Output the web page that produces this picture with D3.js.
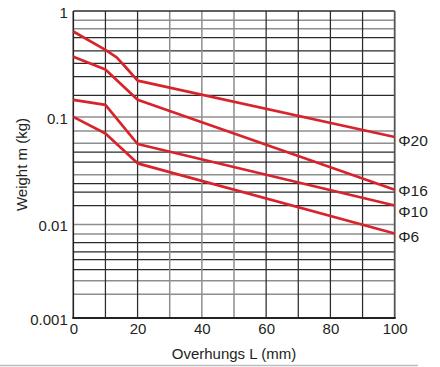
<!DOCTYPE html>
<html>
<head>
<meta charset="utf-8">
<script src="https://cdn.jsdelivr.net/npm/d3@7/dist/d3.min.js"></script>
<style>
  html, body { margin: 0; padding: 0; background: #fff; }
  svg { display: block; font-family: "Liberation Sans", Arial, sans-serif; }
</style>
</head>
<body>
<svg id="chart" width="440" height="367"></svg>
<script>
// Overhang L (mm) sample points for each bore size
const seriesNames = ["Φ20", "Φ16", "Φ10", "Φ6"];
const phi20X = [0, 10, 13.5, 16.6, 20, 100];
const phi20Y = [0.64, 0.43, 0.365, 0.288, 0.22, 0.065];
const phi16X = [0, 10, 20, 100];
const phi16Y = [0.37, 0.28, 0.145, 0.021];
const phi10X = [0, 10, 20, 100];
const phi10Y = [0.145, 0.13, 0.056, 0.015];
const phi6X = [0, 10, 20, 100];
const phi6Y = [0.1, 0.07, 0.037, 0.008];

// Axis ticks
const xTicks = [0, 20, 40, 60, 80, 100];
const yTicks = [1, 0.1, 0.01, 0.001];
const yTickLabels = ["1", "0.1", "0.01", "0.001"];

// Grid lines
const xGridDark = [10, 20, 60, 70, 80, 90];
const xGridLight = [30, 40, 50];
const yGridDark = [0.56, 0.42, 0.32, 0.24, 0.16, 0.047, 0.038, 0.024, 0.02, 0.015,
                   0.0064, 0.0051, 0.0042, 0.0033];
const yGridLight = [0.82, 0.68, 0.1, 0.074, 0.057, 0.029, 0.01, 0.0079, 0.0025, 0.0018];

const svg = d3.select("#chart");
const plotLeft = 73.3, plotRight = 394.7, plotTop = 11, plotBottom = 318;
const textColor = "#231f20";

const x = d3.scaleLinear().domain([0, 100]).range([plotLeft, plotRight]);
// log scale with a separate span per decade
const y = d3.scaleLog()
  .domain([1, 0.1, 0.01, 0.001])
  .range([plotTop, 116.9, 224.5, plotBottom]);

const darkGrid = "#2b2b2b", lightGrid = "#8e8e8e";

const grid = svg.append("g");
grid.selectAll(".hl").data(yGridLight).join("line")
  .attr("x1", plotLeft).attr("x2", plotRight)
  .attr("y1", d => y(d)).attr("y2", d => y(d))
  .attr("stroke", lightGrid).attr("stroke-width", 1.5);
grid.selectAll(".hd").data(yGridDark).join("line")
  .attr("x1", plotLeft).attr("x2", plotRight)
  .attr("y1", d => y(d)).attr("y2", d => y(d))
  .attr("stroke", darkGrid).attr("stroke-width", 1.25);
grid.selectAll(".vl").data(xGridLight).join("line")
  .attr("x1", d => x(d)).attr("x2", d => x(d))
  .attr("y1", plotTop).attr("y2", plotBottom)
  .attr("stroke", lightGrid).attr("stroke-width", 1.5);
grid.selectAll(".vd").data(xGridDark).join("line")
  .attr("x1", d => x(d)).attr("x2", d => x(d))
  .attr("y1", plotTop).attr("y2", plotBottom)
  .attr("stroke", darkGrid).attr("stroke-width", 1.25);

// frame
svg.append("line").attr("x1", plotLeft).attr("x2", plotRight).attr("y1", plotTop).attr("y2", plotTop)
  .attr("stroke", darkGrid).attr("stroke-width", 1.4);
svg.append("line").attr("x1", plotRight).attr("x2", plotRight).attr("y1", plotTop).attr("y2", plotBottom)
  .attr("stroke", "#555").attr("stroke-width", 1.8);
svg.append("line").attr("x1", plotLeft).attr("x2", plotLeft).attr("y1", plotTop).attr("y2", plotBottom)
  .attr("stroke", "#222").attr("stroke-width", 1.6);
svg.append("line").attr("x1", plotLeft - 1).attr("x2", plotRight + 1).attr("y1", plotBottom).attr("y2", plotBottom)
  .attr("stroke", "#222").attr("stroke-width", 1.8);

// tick labels via d3 axes (no tick marks)
const xAxis = svg.append("g")
  .attr("transform", `translate(0,${plotBottom})`)
  .call(d3.axisBottom(x).tickValues(xTicks).tickSize(0).tickPadding(5).tickFormat(d3.format("d")));
xAxis.select(".domain").remove();
xAxis.selectAll("text").attr("font-size", 15).attr("fill", textColor)
  .attr("font-family", "Liberation Sans, Arial, sans-serif");

const yAxis = svg.append("g")
  .attr("transform", `translate(${plotLeft},0)`)
  .call(d3.axisLeft(y).tickValues(yTicks).tickSize(0).tickPadding(5.5)
    .tickFormat((d, i) => yTickLabels[i]));
yAxis.select(".domain").remove();
yAxis.selectAll("text").attr("font-size", 15).attr("fill", textColor)
  .attr("dy", "0.42em")
  .attr("font-family", "Liberation Sans, Arial, sans-serif");

// curves
const series = [
  { name: seriesNames[0], xs: phi20X, ys: phi20Y },
  { name: seriesNames[1], xs: phi16X, ys: phi16Y },
  { name: seriesNames[2], xs: phi10X, ys: phi10Y },
  { name: seriesNames[3], xs: phi6X, ys: phi6Y }
];
const line = d3.line().x(d => x(d[0])).y(d => y(d[1]));
svg.append("g").selectAll("path").data(series).join("path")
  .attr("d", s => line(s.xs.map((v, i) => [v, s.ys[i]])))
  .attr("fill", "none")
  .attr("stroke", "#d8232c")
  .attr("stroke-width", 2.7)
  .attr("stroke-linejoin", "round");

// end labels, spaced so neighbours do not collide
const labels = series.map(s => ({ name: s.name, y: y(s.ys[s.ys.length - 1]) + 3 }));
const minGap = 20.5;
for (let iter = 0; iter < 20; iter++) {
  for (let i = 1; i < labels.length; i++) {
    const gap = labels[i].y - labels[i - 1].y;
    if (gap < minGap) {
      const push = (minGap - gap) / 2;
      labels[i - 1].y -= push;
      labels[i].y += push;
    }
  }
}
svg.append("g").selectAll("text").data(labels).join("text")
  .attr("x", plotRight + 3.5)
  .attr("y", d => d.y)
  .attr("dy", "0.36em")
  .attr("font-size", 15.5)
  .attr("fill", textColor)
  .text(d => d.name);

// axis titles
svg.append("text")
  .attr("x", (plotLeft + plotRight) / 2).attr("y", 359)
  .attr("text-anchor", "middle").attr("font-size", 15).attr("fill", textColor)
  .text("Overhungs L (mm)");
svg.append("text")
  .attr("transform", `translate(26.5,${(plotTop + plotBottom) / 2}) rotate(-90)`)
  .attr("text-anchor", "middle").attr("font-size", 15).attr("fill", textColor)
  .text("Weight m (kg)");

// separator rule under the chart
svg.append("line").attr("x1", 0).attr("x2", 418).attr("y1", 365.5).attr("y2", 365.5)
  .attr("stroke", "#bdbdbd").attr("stroke-width", 1.5);
</script>
</body>
</html>
